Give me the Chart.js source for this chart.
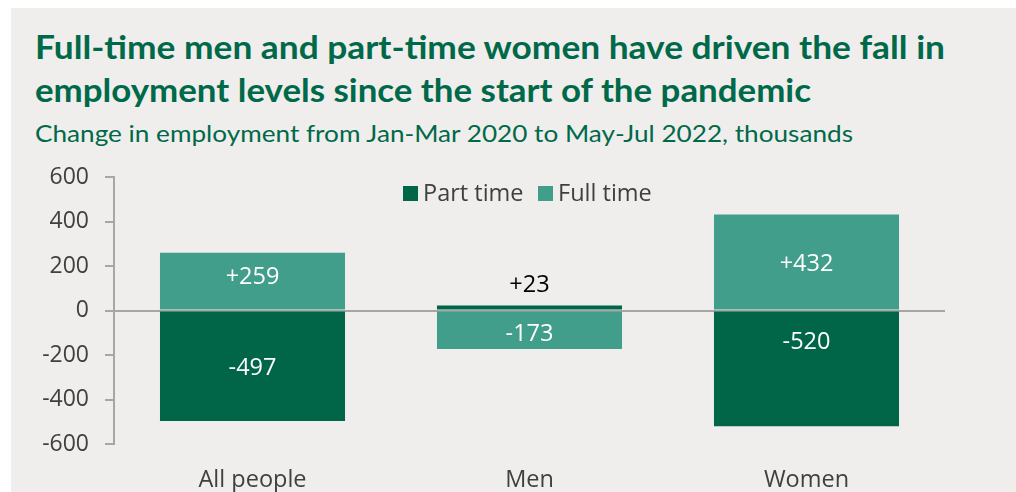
<!DOCTYPE html>
<html>
<head>
<meta charset="utf-8">
<script src="https://cdn.jsdelivr.net/npm/chart.js@4/dist/chart.umd.min.js"></script>
<style>
  html, body { margin: 0; padding: 0; background: #ffffff; width: 1016px; height: 492px; overflow: hidden; }
  #panel { position: absolute; left: 11px; top: 8px; width: 1005px; height: 484px; background: #efeeec; }
  .title { position: absolute; left: 35px; font-family: Lato, "Open Sans", sans-serif; font-weight: 700; color: #00694a;
           font-size: 33px; line-height: 43px; white-space: nowrap; transform-origin: 0 50%; }
  .subtitle { position: absolute; left: 35px; top: 119px; font-family: Lato, "Open Sans", sans-serif; font-weight: 400;
              color: #00694a; font-size: 23px; line-height: 28px; white-space: nowrap; transform-origin: 0 50%; }
  #chart { position: absolute; left: 0; top: 0; }
  .legend { position: absolute; top: 178px; font-family: "Open Sans", sans-serif; font-size: 23.5px; color: #404040; white-space: nowrap; }
  .legend span.sw { position: absolute; top: 8px; width: 15px; height: 15px; }
  .legend span.tx { position: absolute; top: 0; line-height: 28px; }
</style>
</head>
<body>
<div id="panel"></div>
<div class="title" id="t1" style="top:25px">Full-time men and part-time women have driven the fall in</div>
<div class="title" id="t2" style="top:68px">employment levels since the start of the pandemic</div>
<div class="subtitle" id="st">Change in employment from Jan-Mar 2020 to May-Jul 2022, thousands</div>
<canvas id="chart" width="1016" height="492"></canvas>
<div class="legend">
  <span class="sw" style="left:403px;background:#006647"></span><span class="tx" style="left:423px">Part time</span>
  <span class="sw" style="left:538px;background:#409e8a"></span><span class="tx" style="left:558px">Full time</span>
</div>
<script>
// Employment change by group, thousands
const categories = ['All people', 'Men', 'Women'];
const partTime = [-497, 23, -520];
const fullTime = [259, -173, 432];
const yTickValues = [-600, -400, -200, 0, 200, 400, 600];

const PART_COLOR = '#006647';
const FULL_COLOR = '#409e8a';
const AXIS_GREY = '#a6a6a6';
const TEXT_GREY = '#404040';

// Stretch a heading to the width its line should occupy
function fitWidth(id, target) {
  const el = document.getElementById(id);
  el.style.display = 'inline-block';
  const w = el.getBoundingClientRect().width;
  el.style.transform = 'scaleX(' + (target / w) + ')';
}

// Value labels: white inside tall segments, dark above short ones
const valueLabels = {
  id: 'valueLabels',
  afterDatasetsDraw(chart, args, opts) {
    const ctx = chart.ctx;
    ctx.save();
    ctx.font = '23.5px "Open Sans", sans-serif';
    ctx.textAlign = 'center';
    ctx.textBaseline = 'middle';
    chart.data.datasets.forEach((ds, di) => {
      chart.getDatasetMeta(di).data.forEach((bar, i) => {
        const v = ds.data[i];
        const text = (v > 0 ? '+' : '') + v;
        const top = Math.min(bar.y, bar.base);
        const h = Math.abs(bar.base - bar.y);
        let y, color;
        if (h < 30) {
          y = top - 20;
          color = '#000000';
        } else {
          y = (bar.y + bar.base) / 2 + 2 + ((opts.shift || {})[di + '-' + i] || 0);
          color = '#ffffff';
        }
        ctx.fillStyle = color;
        ctx.fillText(text, bar.x, y);
      });
    });
    ctx.restore();
  }
};

document.fonts.ready.then(() => {
  fitWidth('t1', 910);
  fitWidth('t2', 776);
  fitWidth('st', 818);

  new Chart(document.getElementById('chart'), {
    type: 'bar',
    data: {
      labels: categories,
      datasets: [
        { label: 'Part time', data: partTime, backgroundColor: PART_COLOR },
        { label: 'Full time', data: fullTime, backgroundColor: FULL_COLOR }
      ]
    },
    options: {
      responsive: false,
      animation: false,
      devicePixelRatio: 1,
      layout: { padding: { top: 177, right: 71, bottom: 0, left: 0 } },
      datasets: { bar: { categoryPercentage: 1, barPercentage: 0.668 } },
      plugins: {
        legend: { display: false },
        tooltip: { enabled: false },
        valueLabels: { shift: { '0-2': -29, '1-0': -6, '1-1': 2 } }
      },
      scales: {
        x: {
          stacked: true,
          grid: { display: false, drawTicks: false },
          border: { display: false },
          ticks: { color: TEXT_GREY, font: { family: 'Open Sans', size: 23.5 }, padding: 22 },
          afterFit(scale) { scale.height = 48; }
        },
        y: {
          stacked: true,
          min: -600,
          max: 600,
          z: 1,
          afterBuildTicks(scale) { scale.ticks = yTickValues.map(v => ({ value: v })); },
          grid: {
            drawTicks: true,
            tickLength: 9,
            color: ctx => (ctx.tick && ctx.tick.value === 0 ? AXIS_GREY : 'rgba(0,0,0,0)'),
            tickColor: AXIS_GREY,
            lineWidth: 2,
            tickWidth: 2
          },
          border: { display: true, color: AXIS_GREY, width: 2 },
          ticks: { color: TEXT_GREY, font: { family: 'Open Sans', size: 23 }, padding: 16 },
          afterFit(scale) { scale.width = 114; }
        }
      }
    },
    plugins: [valueLabels]
  });
});
</script>
</body>
</html>
